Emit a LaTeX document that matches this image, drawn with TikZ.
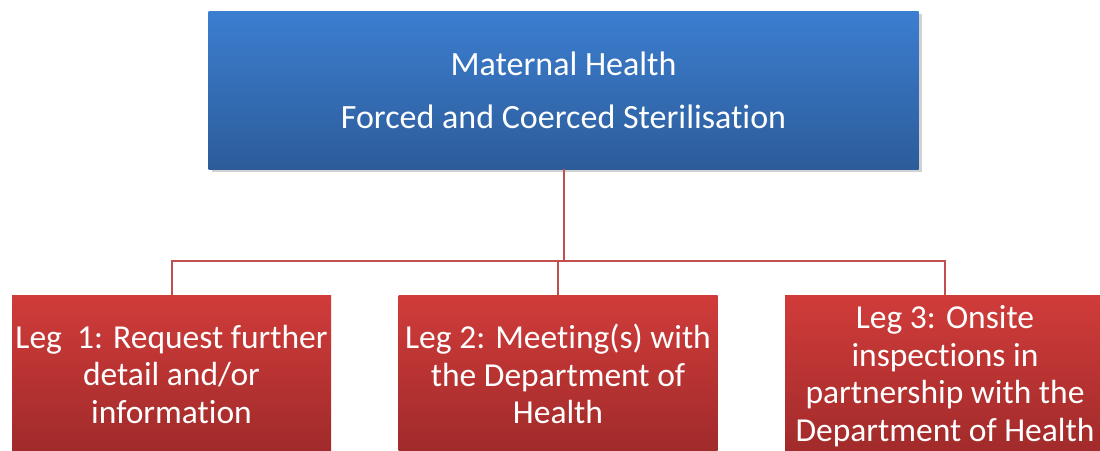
\documentclass[tikz,border=0pt]{standalone}
\usepackage{fontspec}
\setmainfont[Ligatures=NoCommon]{Carlito}
\usetikzlibrary{shadows}
\definecolor{bluetop}{HTML}{3C7ED0}
\definecolor{bluebot}{HTML}{2C5C9A}
\definecolor{redtop}{HTML}{D03C3A}
\definecolor{redbot}{HTML}{A02A2A}
\definecolor{connred}{HTML}{C0504D}
\tikzset{
  topbox/.style={rectangle, minimum width=710pt, minimum height=158pt, inner sep=0pt,
    top color=bluetop, bottom color=bluebot, text=white, align=center,
    font=\fontsize{34}{53}\selectfont,
    drop shadow={shadow xshift=3pt, shadow yshift=-3pt, fill=black, opacity=0.18}},
  legbox/.style={rectangle, minimum width=319pt, minimum height=158pt, inner sep=0pt,
    top color=redtop, bottom color=redbot, text=white, align=center,
    font=\fontsize{33.5}{37.5}\selectfont},
  conn/.style={draw=connred, line width=2pt}
}
\begin{document}
\begin{tikzpicture}[x=1pt,y=-1pt]
\useasboundingbox (0,0) rectangle (1100,450);
\clip (0,0) rectangle (1100,450);
\fill[white] (0,0) rectangle (1100,450);
\node[topbox] (top) at (563.5,90) {Maternal Health\\Forced and Coerced Sterilisation};
\node[legbox] (l) at (171.5,374) {Leg\ \ 1: Request further\\detail and/or\\information};
\node[legbox] (m) at (558,374) {Leg 2: Meeting(s) with\\the Department of\\Health};
\node[legbox, minimum width=320pt, minimum height=162pt] (r) at (945,376) {Leg 3: Onsite\\inspections in\\partnership with the\\Department of Health};
\coordinate (bar) at (0,261);
\draw[conn] (top.south) -- (top.south |- bar);
\draw[conn] (l.north) -- (l.north |- bar) -- (r.north |- bar) -- (r.north);
\draw[conn] (m.north) -- (m.north |- bar);
\end{tikzpicture}
\end{document}
